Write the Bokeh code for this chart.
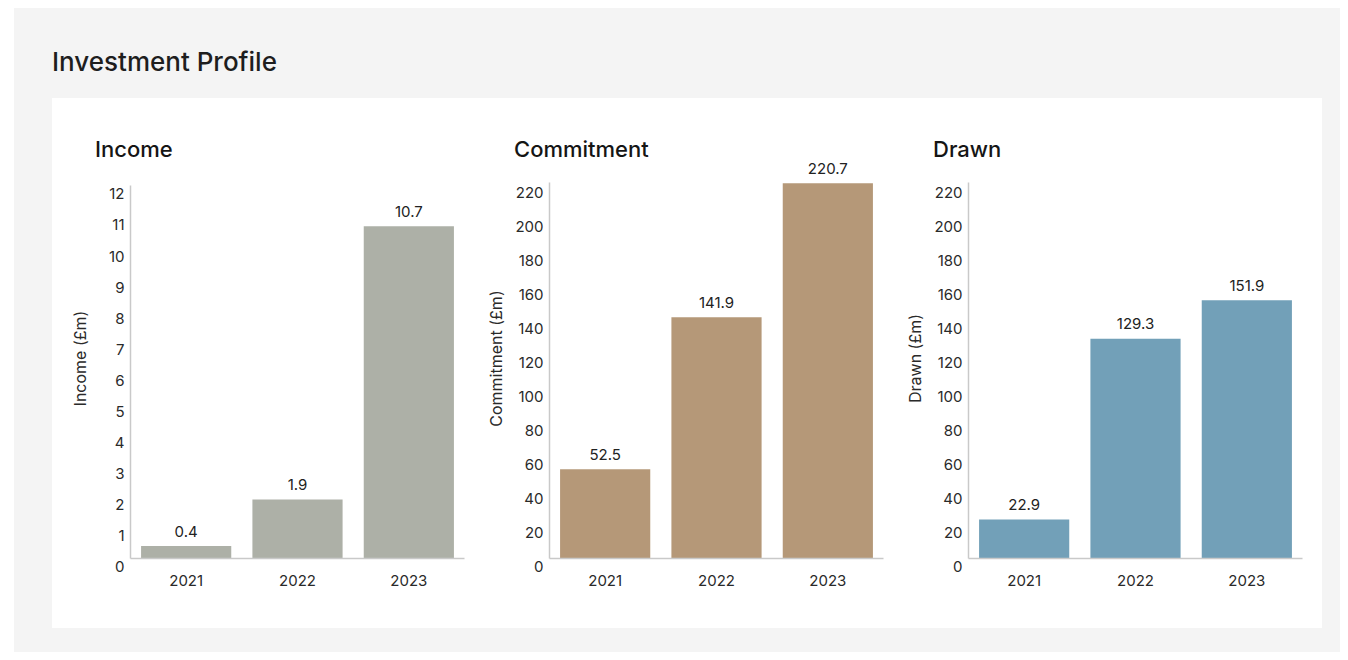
from bokeh.plotting import figure
from bokeh.models import (FactorRange, Range1d, FixedTicker, ColumnDataSource, Div, Spacer)
from bokeh.layouts import row, column
from bokeh.core.properties import value
from bokeh.embed import file_html
from bokeh.resources import INLINE

# ---- data ----
years = ["2021", "2022", "2023"]
income = [0.4, 1.9, 10.7]
commitment = [52.5, 141.9, 220.7]
drawn = [22.9, 129.3, 151.9]
income_ticks = list(range(0, 13, 1))
amount_ticks = list(range(0, 221, 20))

FONT = "Inter"
TXT = "#2a2a2a"
AXIS = "#c9c9c9"


def make_chart(title, ylabel, values, color, yend, axis_top, ticks, label_standoff):
    p = figure(x_range=FactorRange(factors=years, range_padding=0),
               y_range=Range1d(0, yend), title=None,
               frame_width=334, frame_height=400,
               min_border_left=78, min_border_right=7,
               min_border_top=0, min_border_bottom=70,
               output_backend="svg", toolbar_location=None,
               background_fill_color="white", border_fill_color="white",
               outline_line_color=None)
    src = ColumnDataSource(dict(x=years, top=values,
                                label=[f"{v:.1f}" for v in values]))
    p.vbar(x="x", top="top", width=0.81, source=src,
           fill_color=color, line_color=None)
    p.text(x="x", y="top", text="label", source=src,
           text_align="center", text_baseline="alphabetic", y_offset=-15,
           text_font=value(FONT), text_font_size=value("15px"),
           text_color="#222222")

    p.xgrid.grid_line_color = None
    p.ygrid.grid_line_color = None

    p.yaxis.ticker = FixedTicker(ticks=ticks)
    # leading blank line pushes each label a little below its tick, as in the original
    p.yaxis.major_label_overrides = {t: "\n" + str(t) for t in ticks}
    p.yaxis.major_label_text_line_height = 0.85
    p.yaxis.bounds = (0, axis_top)
    p.yaxis.major_tick_out = 0
    p.yaxis.major_tick_in = 0
    p.yaxis.minor_tick_out = 0
    p.yaxis.minor_tick_in = 0
    p.yaxis.axis_line_color = AXIS
    p.yaxis.axis_line_width = 1.5
    p.yaxis.major_label_standoff = 6
    p.yaxis.major_label_text_font = FONT
    p.yaxis.major_label_text_font_size = "15px"
    p.yaxis.major_label_text_color = TXT
    p.yaxis.axis_label = ylabel
    p.yaxis.axis_label_standoff = label_standoff
    p.yaxis.axis_label_text_font = FONT
    p.yaxis.axis_label_text_font_size = "16px"
    p.yaxis.axis_label_text_font_style = "normal"
    p.yaxis.axis_label_text_color = TXT

    p.xaxis.major_tick_out = 0
    p.xaxis.major_tick_in = 0
    p.xaxis.axis_line_color = AXIS
    p.xaxis.axis_line_width = 1.5
    p.xaxis.major_label_standoff = 16
    p.xaxis.major_label_text_font = FONT
    p.xaxis.major_label_text_font_size = "15px"
    p.xaxis.major_label_text_color = TXT

    head = Div(text=(f'<div style="padding:38px 0 0 43px; font-family:{FONT}; '
                     f'font-size:22px; font-weight:500; line-height:26px; '
                     f'color:#151515; white-space:nowrap">{title}</div>'),
               width=419, height=60, margin=(0, 0, 0, 0))
    return column(head, p, spacing=0)


c1 = make_chart("Income", "Income (£m)", income, "#adb0a7", 12.88, 12, income_ticks, 16)
c2 = make_chart("Commitment", "Commitment (£m)", commitment, "#b59878", 235.3, 221, amount_ticks, 6)
c3 = make_chart("Drawn", "Drawn (£m)", drawn, "#72a0b8", 235.3, 221, amount_ticks, 6)

title_div = Div(text="Investment Profile", width=1288, height=52, margin=(0, 0, 0, 0),
                styles={"font-family": FONT, "font-size": "26px",
                        "font-weight": "500", "color": "#1e1e1e",
                        "line-height": "1.2"})

panel = row(c1, c2, c3, Spacer(width=13, height=530),
            styles={"background-color": "#ffffff"})

layout = column(
    Spacer(width=1326, height=38),
    row(Spacer(width=38, height=52), title_div),
    row(Spacer(width=38, height=530), panel, Spacer(width=18, height=530)),
    Spacer(width=1326, height=24),
    styles={"background-color": "#f4f4f4"},
    margin=(8, 0, 0, 14),
)

open("out.html", "w").write(file_html(layout, INLINE))
